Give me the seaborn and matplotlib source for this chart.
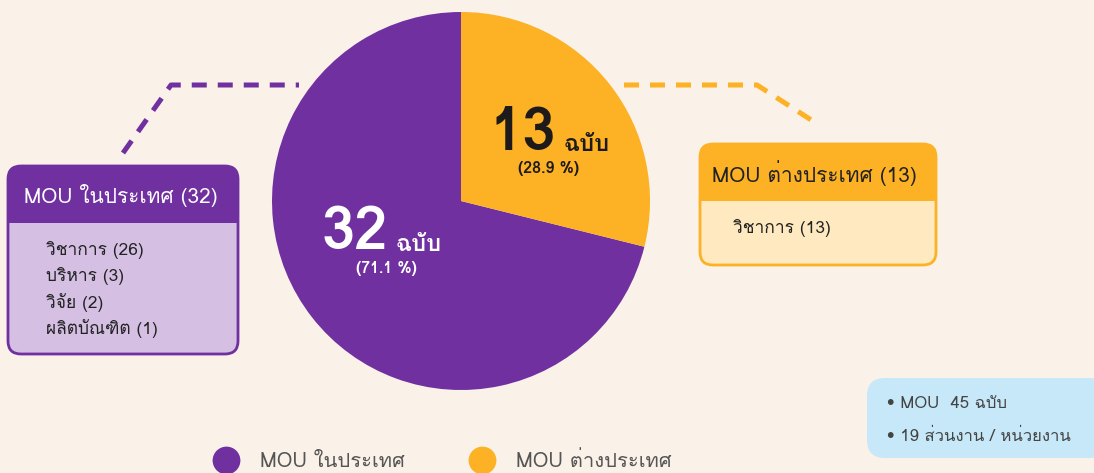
import matplotlib
matplotlib.use("Agg")
import matplotlib.pyplot as plt
import seaborn as sns
from matplotlib import font_manager
from matplotlib.ft2font import FT2Font
from matplotlib.patches import FancyBboxPatch, Rectangle
from matplotlib.lines import Line2D

# data
categories = ["MOU ในประเทศ", "MOU ต่างประเทศ"]
counts = [32, 13]
domestic_types = ["วิชาการ", "บริหาร", "วิจัย", "ผลิตบัณฑิต"]
domestic_counts = [26, 3, 2, 1]
foreign_types = ["วิชาการ"]
foreign_counts = [13]
unit_word = "ฉบับ"
summary_lines = ["• MOU  45 ฉบับ", "• 19 ส่วนงาน / หน่วยงาน"]

colors = ["#7030A0", "#FDB124"]
light = ["#D5C0E4", "#FFE9C0"]
bg = "#FAF1E8"


def thai_family():
    # look for any installed font that has Thai glyphs
    for f in font_manager.fontManager.ttflist:
        try:
            if 0x0E01 in FT2Font(f.fname).get_charmap():
                return f.name
        except Exception:
            pass
    return None


sns.set_theme(style="white")
fam = thai_family()
plt.rcParams["font.family"] = [fam, "DejaVu Sans"] if fam else ["DejaVu Sans"]

W, H = 1094, 473


def Y(y):
    return H - y


fig = plt.figure(figsize=(W / 100, H / 100), dpi=100, facecolor=bg)
ax = fig.add_axes([0, 0, 1, 1])
ax.set_facecolor(bg)

total = sum(counts)
ax.pie(counts, colors=colors, startangle=90, counterclock=True,
       center=(461, Y(201)), radius=189, wedgeprops=dict(linewidth=0))
ax.set_xlim(0, W)
ax.set_ylim(0, H)
ax.set_aspect("equal")
ax.axis("off")
renderer = fig.canvas.get_renderer()

# numbers inside the pie
pct = [c / total * 100 for c in counts]
big = [(322, 249, 251, 386, 269, "white"), (490, 150, 151, 549, 169, "#1E1A1A")]
for i, (x, yb, yu, xp, yp, col) in enumerate(big):
    t = ax.text(x, Y(yb), str(counts[i]), color=col, fontsize=43, fontweight="bold",
                ha="left", va="baseline")
    x_end = t.get_window_extent(renderer).x1
    ax.text(x_end + 7, Y(yu), unit_word, color=col, fontsize=17, fontweight="bold",
            ha="left", va="baseline")
    ax.text(xp, Y(yp), f"({pct[i]:.1f} %)", color=col, fontsize=11.5, fontweight="bold",
            ha="center", va="center")

# dashed connectors
dash = (0, (3, 2.2))
ax.plot([123, 171, 299], [Y(153), Y(85), Y(85)], color=colors[0], lw=3.6,
        linestyle=dash, dash_capstyle="butt")
ax.plot([624, 757, 819], [Y(85), Y(85), Y(125)], color=colors[1], lw=3.6,
        linestyle=dash, dash_capstyle="butt")


def card(x0, y0, x1, y1, yh, head, body, edge, title, tcolor, tx, rows, rx, ry0):
    box = FancyBboxPatch((x0, Y(y1)), x1 - x0, y1 - y0,
                         boxstyle="round,pad=0,rounding_size=13",
                         facecolor=body, edgecolor="none", zorder=3)
    ax.add_patch(box)
    top = Rectangle((x0, Y(yh)), x1 - x0, yh - y0, facecolor=head,
                    edgecolor="none", zorder=4)
    top.set_clip_path(box)
    ax.add_patch(top)
    ax.add_patch(FancyBboxPatch((x0, Y(y1)), x1 - x0, y1 - y0,
                                boxstyle="round,pad=0,rounding_size=13",
                                facecolor="none", edgecolor=edge, lw=2, zorder=5))
    ax.text(tx, Y((y0 + yh) / 2 + 1), title, color=tcolor, fontsize=15,
            ha="left", va="center", zorder=6)
    for i, r in enumerate(rows):
        ax.text(rx, Y(ry0 + i * 26), r, color="#222222", fontsize=12.5,
                ha="left", va="center", zorder=6)


card(8, 166, 238, 354, 223, colors[0], light[0], colors[0],
     f"{categories[0]} ({counts[0]})", "white", 24,
     [f"{t} ({c})" for t, c in zip(domestic_types, domestic_counts)], 46, 250)
card(700, 144, 936, 265, 201, colors[1], light[1], colors[1],
     f"{categories[1]} ({counts[1]})", "#222222", 712,
     [f"{t} ({c})" for t, c in zip(foreign_types, foreign_counts)], 733, 228)

# summary box
ax.add_patch(FancyBboxPatch((867, Y(458)), 240, 80,
                            boxstyle="round,pad=0,rounding_size=18",
                            facecolor="#C6E8F8", edgecolor="none", zorder=3))
for i, s in enumerate(summary_lines):
    ax.text(887, Y(404 + i * 33), s, color="#444444", fontsize=12,
            ha="left", va="center", zorder=6)

# legend
handles = [Line2D([], [], marker="o", linestyle="none", markersize=20,
                  markerfacecolor=c, markeredgecolor="none") for c in colors]
leg = ax.legend(handles, categories, loc="center left", ncol=2,
                bbox_to_anchor=(206, Y(461)), bbox_transform=ax.transData,
                frameon=False, fontsize=14.5, borderpad=0, borderaxespad=0,
                handlelength=2.0, handletextpad=0.7, columnspacing=2.8)
for t in leg.get_texts():
    t.set_color("#555555")

fig.savefig("out.png", dpi=100, facecolor=bg)
